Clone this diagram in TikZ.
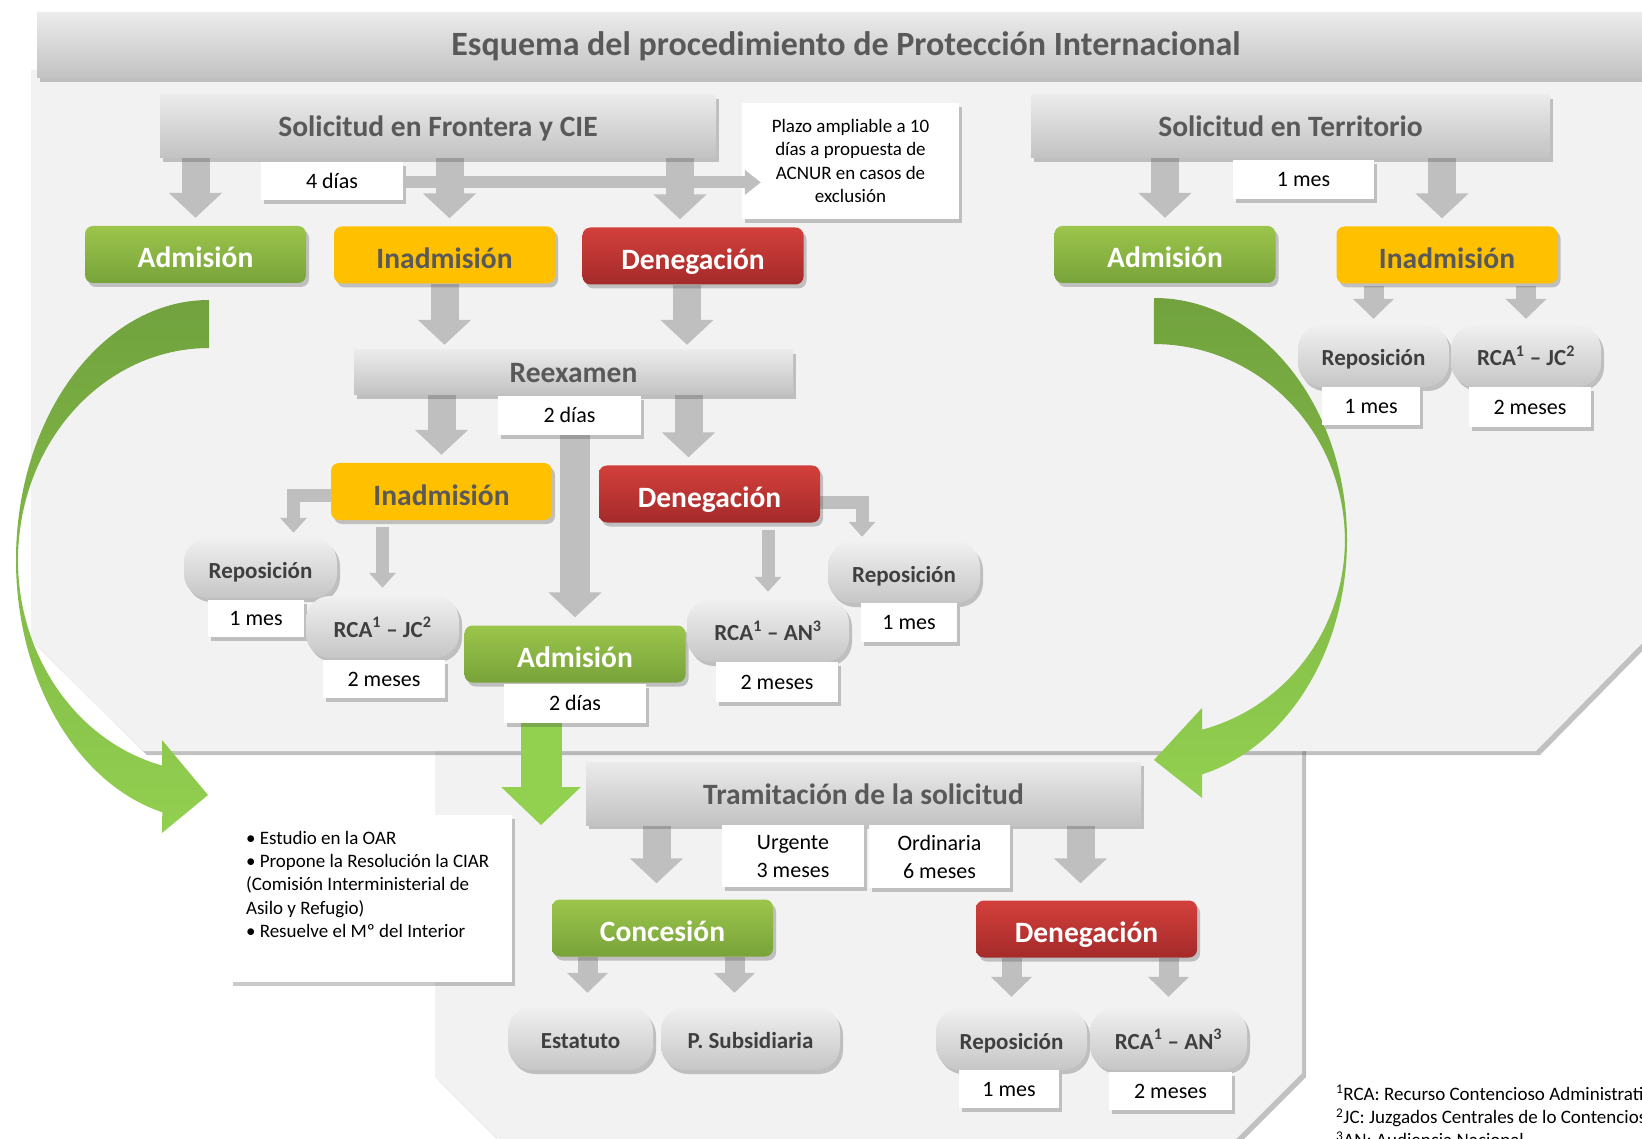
\documentclass[tikz,border=0pt]{standalone}
\usepackage{fontspec}
\setmainfont{Carlito}
\usetikzlibrary{arrows.meta, calc, shadows, backgrounds, positioning}

\definecolor{bggray}{HTML}{F2F2F2}
\definecolor{textgray}{HTML}{595959}
\definecolor{pilltext}{HTML}{3F3F3F}
\definecolor{arrowgray}{HTML}{BFBFBF}
\definecolor{boxtop}{HTML}{EBEBEB}
\definecolor{boxbottom}{HTML}{C2C2C2}
\definecolor{pilltop}{HTML}{F0F0F0}
\definecolor{pillbottom}{HTML}{C6C6C6}
\definecolor{greentop}{HTML}{9CC54B}
\definecolor{greenbottom}{HTML}{78A33A}
\definecolor{redtop}{HTML}{D3403B}
\definecolor{redbottom}{HTML}{A42A2A}
\definecolor{yellowbox}{HTML}{FFC000}
\definecolor{arctop}{HTML}{71A23E}
\definecolor{arcbottom}{HTML}{92D050}

\pgfdeclarelayer{back}
\pgfsetlayers{back,background,main}

\tikzset{
  title_font/.style = {font=\fontsize{34}{40}\selectfont\bfseries},
  head_font/.style = {font=\fontsize{29.5}{34}\selectfont\bfseries},
  pill_font/.style = {font=\fontsize{23}{27}\selectfont\bfseries, text height=23pt, text depth=3pt},
  label_font/.style = {font=\fontsize{22}{28}\selectfont},
  note_font/.style = {font=\fontsize{19}{23.3}\selectfont},
  soft_shadow/.style = {drop shadow={shadow xshift=3pt, shadow yshift=-4pt, fill=black!70, opacity=0.3}}
}
\tikzset{
  heading/.style = {head_font, text height=27pt, text depth=6pt, text=textgray, inner sep=0, minimum height=63,
    top color=boxtop, bottom color=boxbottom, soft_shadow},
  state_box/.style = {head_font, text height=27pt, text depth=0pt, inner sep=0, minimum width=221, minimum height=57,
    rounded corners=8, soft_shadow},
  admit/.style = {state_box, text=white, top color=greentop, bottom color=greenbottom},
  inadmit/.style = {state_box, text=textgray, fill=yellowbox},
  deny/.style = {state_box, text=white, top color=redtop, bottom color=redbottom},
  pill/.style = {pill_font, text=pilltext, inner sep=0, minimum width=152, minimum height=62,
    rounded corners=24, top color=pilltop, bottom color=pillbottom, soft_shadow},
  term/.style = {label_font, inner sep=0, fill=white, minimum height=38, soft_shadow},
  note_box/.style = {note_font, fill=white, soft_shadow},
  region/.style = {fill=bggray, drop shadow={shadow xshift=4pt, shadow yshift=-4pt, fill=black!70, opacity=0.35}}
}
\tikzset{
  block_arrow/.style = {arrowgray, line width=28, -{Triangle[length=25pt, width=52pt]}},
  small_arrow/.style = {arrowgray, line width=20, -{Triangle[length=20pt, width=40pt]}},
  thin_arrow/.style = {arrowgray, line width=13, line join=miter, -{Triangle[length=15pt, width=26pt]}},
  green_arrow/.style = {arcbottom, line width=41, -{Triangle[length=38pt, width=77pt]}}
}

\begin{document}
\begin{tikzpicture}[x=1pt, y=-1pt, node distance=0pt]
    \useasboundingbox (0,0) rectangle (1642,1139);

    % Title
    \node[title_font, text=textgray] at (846,46) (title) {Esquema del procedimiento de Protección Internacional};

    % Solicitud en frontera
    \node[heading, minimum width=556] at (438,126.5) (sf) {Solicitud en Frontera y CIE};
    \node[term, minimum width=142, below=3.5pt of sf, xshift=-106] (sf_days) {4 días};
    \node[note_box, align=center, inner sep=0, minimum width=217, minimum height=116] at (850.5,161) (plazo) {
        Plazo ampliable a 10\\días a propuesta de\\ACNUR en casos de\\exclusión};
    \node[admit] at (195.5,254.5) (adm_f) {Admisión};
    \node[inadmit] at (444.5,255) (inad_f) {Inadmisión};
    \node[deny] at (693,256) (den_f) {Denegación};

    % Solicitud en territorio
    \node[heading, minimum width=519] at (1290.5,126.5) (st) {Solicitud en Territorio};
    \node[term, minimum width=141, minimum height=39, below=1.5pt of st, xshift=13] (st_month) {1 mes};
    \node[admit] at (1165,254.5) (adm_t) {Admisión};
    \node[inadmit] at (1447,255) (inad_t) {Inadmisión};
    \node[pill, minimum width=151] at (1373.5,356) (rep_t) {Reposición};
    \node[pill, minimum width=150] at (1526,356) (rca_t) {RCA\textsuperscript{1} -- JC\textsuperscript{2}};
    \node[term, minimum width=98, below=0pt of rep_t, xshift=-2.5] (rep_t_month) {1 mes};
    \node[term, minimum width=122, minimum height=40, below=0pt of rca_t, xshift=4] (rca_t_month) {2 meses};

    % Reexamen
    \node[heading, minimum width=439, minimum height=45] at (573.5,372.5) (reex) {Reexamen};
    \node[term, minimum width=143, minimum height=39, below=0.5pt of reex, xshift=-4] (reex_days) {2 días};
    \node[inadmit] at (441.5,491.5) (inad_r) {Inadmisión};
    \node[deny] at (709.5,494) (den_r) {Denegación};
    \node[pill, minimum width=153, minimum height=60] at (260.5,568) (rep_r) {Reposición};
    \node[term, minimum width=96, minimum height=37, below=2pt of rep_r, xshift=-4.5] (rep_r_month) {1 mes};
    \node[pill, minimum width=153] at (382.5,627) (rca_r) {RCA\textsuperscript{1} -- JC\textsuperscript{2}};
    \node[term, minimum width=122, below=2pt of rca_r, xshift=1.5] (rca_r_month) {2 meses};
    \node[admit] at (575,654) (adm_r) {Admisión};
    \node[term, minimum width=142, minimum height=39, below=1pt of adm_r] (adm_r_days) {2 días};
    \node[pill, minimum width=162, minimum height=63] at (768,630.5) (rca_m) {RCA\textsuperscript{1} -- AN\textsuperscript{3}};
    \node[term, minimum width=122, minimum height=40, below=0pt of rca_m, xshift=9] (rca_m_month) {2 meses};
    \node[pill, minimum width=152, minimum height=61] at (904,572.5) (rep_m) {Reposición};
    \node[term, minimum width=96, minimum height=39, below=0pt of rep_m, xshift=5] (rep_m_month) {1 mes};

    % Tramitacion
    \node[heading, minimum width=555] at (863.5,793.5) (tram) {Tramitación de la solicitud};
    \node[term, align=center, minimum width=142, minimum height=62, below=0pt of tram, xshift=-70.5] (urg) {Urgente\\3 meses};
    \node[term, align=center, minimum width=141, minimum height=63, below=0pt of tram, xshift=76] (ord) {Ordinaria\\6 meses};
    \node[note_box, inner xsep=16pt, inner ysep=12pt] at (371,898.5) (oar) {\parbox[c][143pt][t]{250pt}{\raggedright
        \vspace*{4pt}
        \textbullet\ Estudio en la OAR\\
        \textbullet\ Propone la Resolución la CIAR\\
        (Comisión Interministerial de\\
        Asilo y Refugio)\\
        \textbullet\ Resuelve el Mº del Interior}};
    \node[admit] at (662.5,928) (conc) {Concesión};
    \node[deny] at (1086.5,929) (den_l) {Denegación};
    \node[pill, minimum width=145, minimum height=63] at (580.5,1038.5) (est) {Estatuto};
    \node[pill, minimum width=179, minimum height=63] at (750.5,1038.5) (psub) {P. Subsidiaria};
    \node[pill, minimum width=151] at (1011.5,1039) (rep_l) {Reposición};
    \node[pill, minimum width=157] at (1168.5,1039) (rca_l) {RCA\textsuperscript{1} -- AN\textsuperscript{3}};
    \node[term, minimum width=100, below=0pt of rep_l, xshift=-2.5] (rep_l_month) {1 mes};
    \node[term, minimum width=123, below=2pt of rca_l, xshift=2] (rca_l_month) {2 meses};

    % Footnotes
    \node[note_font, align=left, anchor=north west, inner sep=0] at (1336,1085) (notes) {
        \textsuperscript{1}RCA: Recurso Contencioso Administrativo\\
        \textsuperscript{2}JC: Juzgados Centrales de lo Contencioso-Administrativo\\
        \textsuperscript{3}AN: Audiencia Nacional};

    % Arrows
    \begin{scope}[on background layer]
        \draw[block_arrow, shorten >=8pt] (sf.south -| adm_f) -- (adm_f.north);
        \draw[block_arrow, shorten >=8pt] ($(sf.south -| inad_f)+(5,0)$) -- ($(inad_f.north)+(5,0)$);
        \draw[block_arrow, shorten >=8pt] ($(sf.south -| den_f)+(-13,0)$) -- ($(den_f.north)+(-13,0)$);
        \draw[block_arrow, shorten >=8pt] (st.south -| adm_t) -- (adm_t.north);
        \draw[block_arrow, shorten >=8pt] ($(st.south -| inad_t)+(-5,0)$) -- ($(inad_t.north)+(-5,0)$);

        \draw[block_arrow, shorten >=5pt] (inad_f.south) -- (inad_f.south |- reex.north);
        \draw[block_arrow, shorten >=5pt] ($(den_f.south)+(-6,0)$) -- ($(den_f.south |- reex.north)+(-6,0)$);
        \draw[block_arrow, shorten >=8pt] (reex.south -| inad_r) -- (inad_r.north);
        \draw[block_arrow, shorten >=8pt] ($(reex.south -| den_r)+(-21,0)$) -- ($(den_r.north)+(-21,0)$);
        \draw[block_arrow, line width=30, shorten >=8pt] (reex_days.south -| adm_r) -- (adm_r.north);

        \draw[thin_arrow, shorten >=5pt] ($(inad_r.west)+(0,4)$) -| ($(rep_r.north)+(33,0)$);
        \draw[thin_arrow, shorten <=7pt, shorten >=8pt] (inad_r.south -| rca_r) -- (rca_r.north);
        \draw[thin_arrow, shorten <=7pt, shorten >=7pt] (den_r.south -| rca_m) -- (rca_m.north);
        \draw[thin_arrow, shorten >=5pt] ($(den_r.east)+(0,8)$) -| ($(rep_m.north)+(-42,0)$);

        \draw[small_arrow, shorten <=2pt, shorten >=6pt] (inad_t.south -| rep_t) -- (rep_t.north);
        \draw[small_arrow, shorten <=2pt, shorten >=6pt] (inad_t.south -| rca_t) -- (rca_t.north);

        \draw[green_arrow] ($(adm_r_days.south)+(-34,0)$) -- ($(adm_r_days.south |- tram.south)+(-34,0)$);

        \draw[block_arrow, shorten >=16pt] ($(tram.south -| conc)+(-6,0)$) -- ($(conc.north)+(-6,0)$);
        \draw[block_arrow, shorten >=17pt] ($(tram.south -| den_l)+(-6,0)$) -- ($(den_l.north)+(-6,0)$);
        \draw[small_arrow, shorten >=14pt] ($(conc.south)+(-75,0)$) -- ($(conc.south |- est.north)+(-75,0)$);
        \draw[small_arrow, shorten >=14pt] ($(conc.south)+(72,0)$) -- ($(conc.south |- psub.north)+(72,0)$);
        \draw[small_arrow, shorten >=11pt] (den_l.south -| rep_l) -- (rep_l.north);
        \draw[small_arrow, shorten >=11pt] (den_l.south -| rca_l) -- (rca_l.north);
    \end{scope}
    \draw[arrowgray, line width=12, -{Triangle[length=16pt, width=24pt]}]
        ($(sf_days.east)+(0,1.5)$) -- ($(sf_days.east -| plazo.west)+(19,1.5)$);

    % Panels and curved arrows
    \begin{pgfonlayer}{back}
        \fill[region] (435,740) -- (1302,740) -- (1302,1073) -- (1225,1150) -- (508,1150) -- (435,1077) -- cycle;
        \fill[region] (31,70) -- (1660,70) -- (1660,625) -- (1536,751) -- (143,751) -- (31,640) -- cycle;
        \shade[top color=boxtop, bottom color=boxbottom, soft_shadow] (37,13) rectangle (1700,78);

        \shade[top color=arctop, bottom color=arcbottom]
            (209,300) arc[start angle=-90, end angle=-256, x radius=193, y radius=260]
            -- (162,833) -- (208,795) -- (162,740) -- (162,765.5)
            arc[start angle=-255.75, end angle=-90, x radius=191, y radius=212] -- cycle;
        \shade[top color=arctop, bottom color=arcbottom]
            (1154,298) arc[start angle=-90, end angle=75.6, x radius=193, y radius=242]
            -- (1202,798) -- (1154,760) -- (1202,708) -- (1202,729.7)
            arc[start angle=75.4, end angle=-90, x radius=191, y radius=196] -- cycle;
    \end{pgfonlayer}
\end{tikzpicture}
\end{document}
